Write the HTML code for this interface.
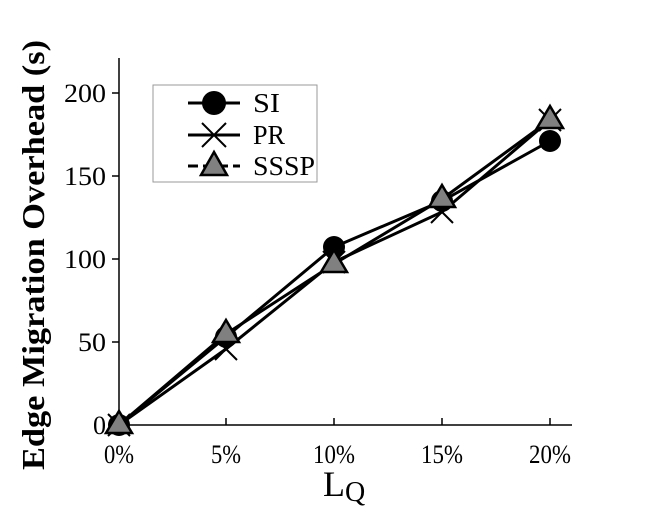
<!DOCTYPE html>
<html><head><style>body{margin:0;background:#fff}</style></head><body>
<svg width="664" height="509" xmlns="http://www.w3.org/2000/svg" font-family="Liberation Serif, serif">
<rect width="664" height="509" fill="#fff"/>
<g stroke="#000" stroke-width="1.5" fill="none">
<line x1="119" y1="58" x2="119" y2="425"/>
<line x1="119" y1="425" x2="572" y2="425"/>
<line x1="112" y1="425" x2="119" y2="425"/><line x1="112" y1="342" x2="119" y2="342"/><line x1="112" y1="259" x2="119" y2="259"/><line x1="112" y1="176" x2="119" y2="176"/><line x1="112" y1="93" x2="119" y2="93"/>
<line x1="226" y1="425" x2="226" y2="418"/><line x1="334" y1="425" x2="334" y2="418"/><line x1="442" y1="425" x2="442" y2="418"/><line x1="550" y1="425" x2="550" y2="418"/>
</g>
<g font-size="26" text-anchor="end">
<text x="106" y="434">0</text><text x="106" y="351" textLength="28" lengthAdjust="spacingAndGlyphs">50</text><text x="106" y="268" textLength="42" lengthAdjust="spacingAndGlyphs">100</text><text x="106" y="185" textLength="42" lengthAdjust="spacingAndGlyphs">150</text><text x="106" y="102" textLength="42" lengthAdjust="spacingAndGlyphs">200</text>
</g>
<g font-size="26" text-anchor="middle">
<text x="119" y="463" textLength="30" lengthAdjust="spacingAndGlyphs">0%</text><text x="226" y="463" textLength="30" lengthAdjust="spacingAndGlyphs">5%</text><text x="334" y="463" textLength="42" lengthAdjust="spacingAndGlyphs">10%</text><text x="442" y="463" textLength="42" lengthAdjust="spacingAndGlyphs">15%</text><text x="550" y="463" textLength="42" lengthAdjust="spacingAndGlyphs">20%</text>
</g>
<text x="323" y="496" font-size="36">L<tspan font-size="28" dy="5">Q</tspan></text>
<text transform="translate(44,255) rotate(-90)" text-anchor="middle" font-size="32" font-weight="bold" textLength="430" lengthAdjust="spacingAndGlyphs">Edge Migration Overhead (s)</text>
<g stroke="#000" stroke-width="3" fill="none">
<polyline points="119,425 226,337 334,247 442,201 550,141"/>
<polyline points="119,425 226,349 334,262 442,212 550,120"/>
<polyline points="119,425 226,334 334,264 442,199 550,120"/>
</g>
<g fill="#000">
<circle cx="119" cy="425" r="11"/><circle cx="226" cy="337" r="11"/><circle cx="334" cy="247" r="11"/><circle cx="442" cy="201" r="11"/><circle cx="550" cy="141" r="11"/>
</g>
<g stroke="#000" stroke-width="2">
<path d="M108,414l22,22M108,436l22,-22"/><path d="M215,338l22,22M215,360l22,-22"/><path d="M323,251l22,22M323,273l22,-22"/><path d="M431,201l22,22M431,223l22,-22"/><path d="M539,109l22,22M539,131l22,-22"/>
</g>
<g fill="#808080" stroke="#000" stroke-width="2.5">
<polygon points="119,411 132,433 106,433"/><polygon points="226,320 239,342 213,342"/><polygon points="334,250 347,272 321,272"/><polygon points="442,185 455,207 429,207"/><polygon points="550,106 563,128 537,128"/>
</g>
<rect x="153" y="85" width="164" height="97" fill="#fff" stroke="#999" stroke-width="1"/>
<g stroke="#000" stroke-width="3">
<line x1="188" y1="103" x2="240" y2="103"/>
<line x1="188" y1="135" x2="240" y2="135"/>
<line x1="188" y1="166" x2="240" y2="166" stroke-dasharray="10,5"/>
</g>
<circle cx="214" cy="103" r="12" fill="#000"/>
<path d="M202,123l24,24M202,147l24,-24" stroke="#000" stroke-width="2"/>
<polygon points="214,152 227,175 201,175" fill="#808080" stroke="#000" stroke-width="2.5"/>
<g font-size="27">
<text x="253" y="112" textLength="27" lengthAdjust="spacingAndGlyphs">SI</text><text x="253" y="144" textLength="32" lengthAdjust="spacingAndGlyphs">PR</text><text x="253" y="175" textLength="62" lengthAdjust="spacingAndGlyphs">SSSP</text>
</g>
</svg>
</body></html>
